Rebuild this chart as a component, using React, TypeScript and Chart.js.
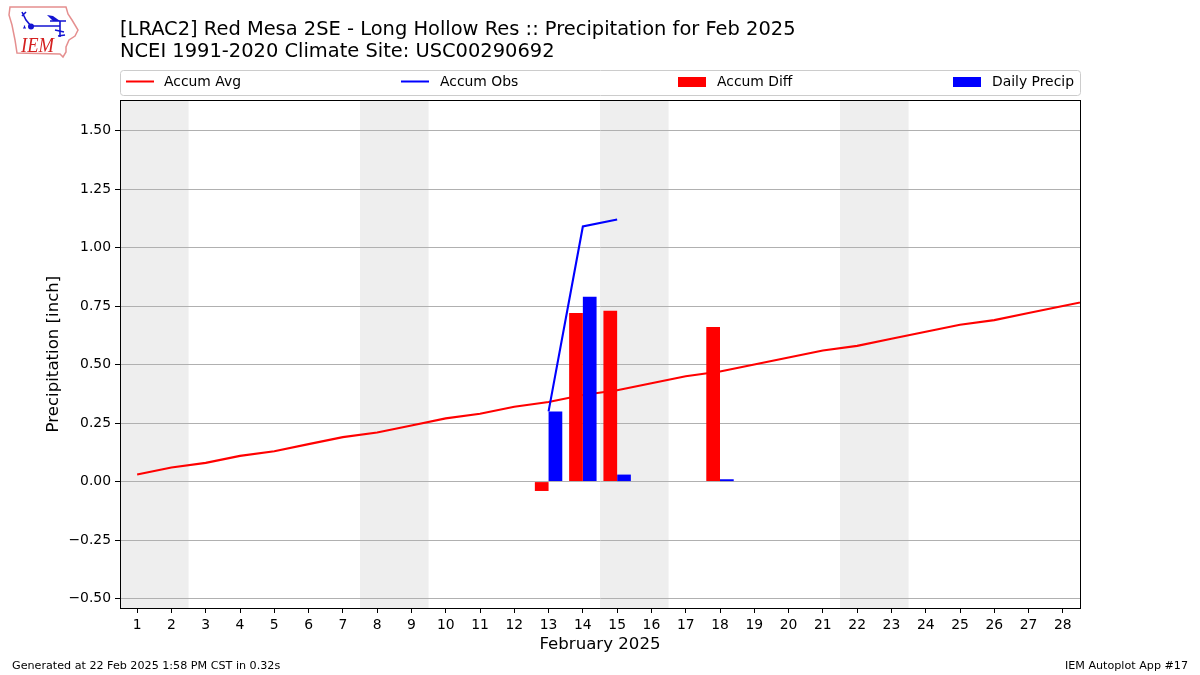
import React, { useEffect, useRef } from "react";
import { Chart, registerables } from "chart.js";

Chart.register(...registerables);

const days = [1,2,3,4,5,6,7,8,9,10,11,12,13,14,15,16,17,18,19,20,21,22,23,24,25,26,27,28,29];
const accumAvg = [0.03,0.06,0.08,0.11,0.13,0.16,0.19,0.21,0.24,0.27,0.29,0.32,0.34,0.37,0.39,0.42,0.45,0.47,0.5,0.53,0.56,0.58,0.61,0.64,0.67,0.69,0.72,0.75,0.78];
const obsDays = [13,14,15];
const accumObs = [0.3,1.09,1.12];
const barDays = [13,14,15,18];
const accumDiff = [-0.04,0.72,0.73,0.66];
const dailyPrecip = [0.3,0.79,0.03,0.01];
const weekendSpans = [[0.5,2.5],[7.5,9.5],[14.5,16.5],[21.5,23.5]];
const yTicks = [-0.5,-0.25,0,0.25,0.5,0.75,1,1.25,1.5];
const xTicks = days.slice(0,28);
const titleLines = ["[LRAC2] Red Mesa 2SE - Long Hollow Res :: Precipitation for Feb 2025","NCEI 1991-2020 Climate Site: USC00290692"];
const footerLeft = "Generated at 22 Feb 2025 1:58 PM CST in 0.32s";
const footerRight = "IEM Autoplot App #17";
const FONT = "'DejaVu Sans'";

const xy = (xs: number[], ys: number[]) => xs.map((x, i) => ({ x, y: ys[i] }));

const shadePlugin = {
  id: "shade",
  beforeDraw(chart: any) {
    const { ctx, chartArea: a, scales } = chart;
    ctx.save();
    ctx.fillStyle = "#eeeeee";
    for (const [s, e] of weekendSpans) {
      const l = scales.x.getPixelForValue(s);
      const r = scales.x.getPixelForValue(e);
      ctx.fillRect(l, a.top, r - l, a.bottom - a.top);
    }
    ctx.restore();
  },
};

const framePlugin = {
  id: "frame",
  afterDraw(chart: any) {
    const { ctx, chartArea: a, width } = chart;
    ctx.save();
    ctx.strokeStyle = "#000";
    ctx.lineWidth = 1;
    ctx.strokeRect(Math.round(a.left) + 0.5, Math.round(a.top) + 0.5, Math.round(a.right - a.left), Math.round(a.bottom - a.top));

    // legend
    const bx = 120.5, by = 70.5, bw = 960, bh = 25;
    ctx.strokeStyle = "#cccccc";
    ctx.fillStyle = "#fff";
    ctx.beginPath();
    ctx.roundRect(bx, by, bw, bh, 3);
    ctx.fill();
    ctx.stroke();
    const entries = [
      { i: 0, x: 126, tx: 164, bar: false },
      { i: 1, x: 401, tx: 440, bar: false },
      { i: 2, x: 678, tx: 717, bar: true },
      { i: 3, x: 953, tx: 992, bar: true },
    ];
    ctx.font = `13.9px ${FONT}`;
    ctx.textBaseline = "middle";
    ctx.textAlign = "left";
    for (const en of entries) {
      const ds = chart.data.datasets[en.i];
      if (en.bar) {
        ctx.fillStyle = ds.backgroundColor;
        ctx.fillRect(en.x, 77, 28, 10);
      } else {
        ctx.strokeStyle = ds.borderColor;
        ctx.lineWidth = 2;
        ctx.beginPath();
        ctx.moveTo(en.x, 81.5);
        ctx.lineTo(en.x + 28, 81.5);
        ctx.stroke();
      }
      ctx.fillStyle = "#000";
      ctx.fillText(ds.label, en.tx, 82.5);
    }

    // footer
    ctx.font = `11.15px ${FONT}`;
    ctx.textAlign = "left";
    ctx.fillText(footerLeft, 12, 666);
    ctx.textAlign = "right";
    ctx.fillText(footerRight, width - 12, 666);
    ctx.restore();
  },
};

function Logo() {
  return (
    <svg width={90} height={62} style={{ position: "absolute", left: 0, top: 0 }}>
      <path d="M10 7 L66 7 L68 14 L72 20 L78 30 L75 36 L69 40 L66 47 L66 52 L63 57 L60 54 L17 53 L15 40 L12 25 L9 15 Z" fill="#fff" stroke="#e58f8f" strokeWidth={1.5} />
      <g stroke="#1414d2" fill="none" strokeWidth={1.6}>
        <path d="M31 26 L60 26 M60 21 L60 37 M50 21 L66 21 M22 12 L26 20 L31 26 M22 16 L26 12" />
        <path d="M55 30 L64 32 M58 36 L65 35" />
      </g>
      <circle cx={31} cy={26.5} r={3} fill="#1414d2" />
      <path d="M47 15 L53 16 L60 21 L53 21 Z" fill="#1414d2" />
      <path d="M23 28 l3 0 M24.5 25.5 l0 3" stroke="#1414d2" strokeWidth={1.2} />
      <text x={21} y={52} fontFamily="'Liberation Serif'" fontStyle="italic" fontSize={21} textLength={33} lengthAdjust="spacingAndGlyphs" fill="#d42020">IEM</text>
    </svg>
  );
}

export default function App() {
  const ref = useRef<HTMLCanvasElement>(null);
  useEffect(() => {
    document.body.style.margin = "0";
    const chart = new Chart(ref.current as HTMLCanvasElement, {
      type: "bar",
      data: {
        datasets: [
          { type: "line", label: "Accum Avg", data: xy(days, accumAvg), borderColor: "#ff0000", backgroundColor: "#ff0000", borderWidth: 2.1, pointRadius: 0, order: 3, tension: 0 },
          { type: "line", label: "Accum Obs", data: xy(obsDays, accumObs), borderColor: "#0000ff", backgroundColor: "#0000ff", borderWidth: 2.1, pointRadius: 0, order: 0, tension: 0 },
          { type: "bar", label: "Accum Diff", data: xy(barDays, accumDiff), backgroundColor: "#ff0000", categoryPercentage: 0.8, barPercentage: 1, order: 1 },
          { type: "bar", label: "Daily Precip", data: xy(barDays, dailyPrecip), backgroundColor: "#0000ff", categoryPercentage: 0.8, barPercentage: 1, order: 1 },
        ] as any,
      },
      options: {
        responsive: false,
        animation: false,
        layout: { padding: { left: 44, right: 120, top: 0, bottom: 20 } },
        plugins: {
          legend: { display: false },
          tooltip: { enabled: false },
          title: {
            display: true,
            text: titleLines,
            align: "start",
            fullSize: false,
            color: "#000",
            font: { family: FONT, size: 19.45, weight: "normal", lineHeight: 1.12 },
            padding: { top: 19, bottom: 37.5 },
          },
        },
        scales: {
          x: {
            type: "linear",
            min: 0.5,
            max: 28.5,
            offset: false,
            afterBuildTicks: (s: any) => { s.ticks = xTicks.map((v) => ({ value: v })); },
            afterFit: (s: any) => { s.height = 47; },
            ticks: { autoSkip: false, maxRotation: 0, color: "#000", font: { family: FONT, size: 13.9 }, padding: 4, callback: (v: any) => String(v) },
            grid: { offset: false, drawOnChartArea: false, tickColor: "#000", tickLength: 5 },
            border: { color: "#000" },
            title: { display: true, text: "February 2025", color: "#000", font: { family: FONT, size: 16.6 }, padding: { top: 1, bottom: 0 } },
          },
          y: {
            min: -0.54,
            max: 1.63,
            afterBuildTicks: (s: any) => { s.ticks = yTicks.map((v) => ({ value: v })); },
            afterFit: (s: any) => { s.width = 76; },
            ticks: { color: "#000", font: { family: FONT, size: 13.9 }, padding: 4, callback: (v: any) => Number(v).toFixed(2).replace("-", "\u2212") },
            grid: { color: "#b0b0b0", lineWidth: 1, tickColor: "#000", tickLength: 5 },
            border: { color: "#000" },
            title: { display: true, text: "Precipitation [inch]", color: "#000", font: { family: FONT, size: 16.6 }, padding: { top: 0, bottom: 0 } },
          },
        },
      } as any,
      plugins: [shadePlugin, framePlugin],
    });
    return () => chart.destroy();
  }, []);
  return (
    <div style={{ position: "absolute", left: 0, top: 0, width: 1200, height: 675, background: "#fff" }}>
      <canvas ref={ref} width={1200} height={675} style={{ display: "block" }} />
      <Logo />
    </div>
  );
}
